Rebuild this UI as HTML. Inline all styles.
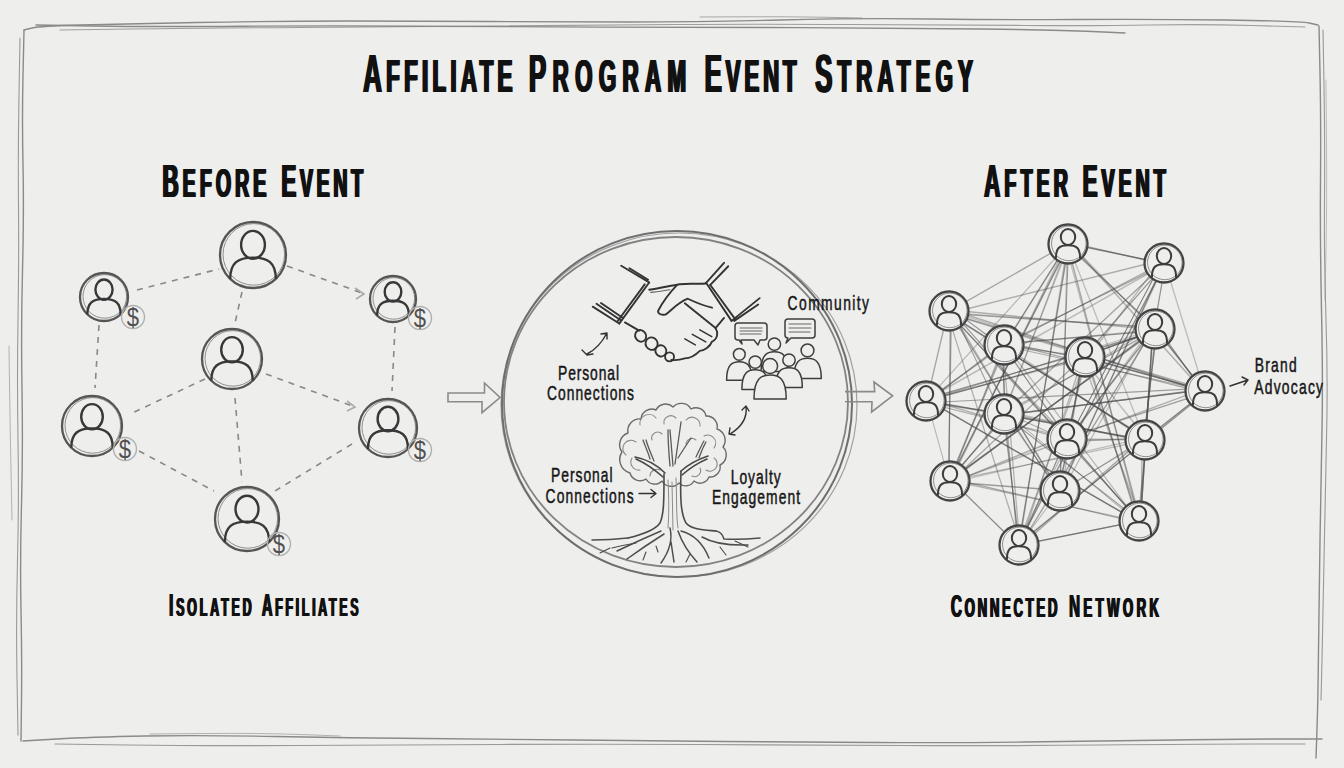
<!DOCTYPE html><html><head><meta charset="utf-8"><style>html,body{margin:0;padding:0;background:#eeeeed;width:1344px;height:768px;overflow:hidden}svg{display:block}.h{font-family:"Liberation Sans",sans-serif;font-weight:bold;fill:#111}.t{font-family:"Liberation Sans",sans-serif;fill:#161616}</style></head><body>
<svg width="1344" height="768" viewBox="0 0 1344 768">
<rect width="1344" height="768" fill="#eeeeed"/>
<path d="M24 30 L32 28 Q40 26 80 25 Q120 24 197 22.5 Q274 21 348.5 21 Q423 21 491.5 21.5 Q560 22 630 22 Q700 22 781 20 Q862 18 931 19 Q1000 20 1075 19.5 Q1150 19 1225 20 Q1300 21 1309 23 L1318 25" fill="none" stroke="#8a8a8a" stroke-width="1.3" stroke-linecap="round" opacity="1.0"/>
<path d="M36 25 L93 26 Q150 27 242 26.2 Q334 25.5 417 26.2 Q500 27 600 27.1 Q700 27.3 800 27.6 Q900 28 980 29 Q1060 30 1092.5 31.5 L1125 33" fill="none" stroke="#8a8a8a" stroke-width="1.4" stroke-linecap="round" opacity="1.0"/>
<path d="M60 30 L130 29 Q200 28 300 27.5 Q400 27 500 26 Q600 25 675 24.5 Q750 24 850 24.5 Q950 25 1025 25.5 Q1100 26 1150 25 Q1200 24 1252.5 25.5 L1305 27" fill="none" stroke="#8a8a8a" stroke-width="1.2" stroke-linecap="round" opacity="0.8"/>
<path d="M700 17 L740 16.8 Q780 16.5 821 17.2 L862 18" fill="none" stroke="#8a8a8a" stroke-width="1.0" stroke-linecap="round" opacity="0.7"/>
<path d="M24 30 L23 75 Q22 120 23 165 Q24 210 22.5 270 Q21 330 22 390 Q23 450 21.5 505 Q20 560 21 610 Q22 660 21.5 700.5 L21 741" fill="none" stroke="#8a8a8a" stroke-width="1.4" stroke-linecap="round" opacity="1.0"/>
<path d="M20 38 L19 94 Q18 150 18.5 205 Q19 260 18 320 Q17 380 18 440 Q19 500 17.5 560 Q16 620 17 677.5 L18 735" fill="none" stroke="#8a8a8a" stroke-width="1.1" stroke-linecap="round" opacity="0.85"/>
<path d="M9 346 L9.5 383 Q10 420 11 470 L12 520" fill="none" stroke="#8a8a8a" stroke-width="1.0" stroke-linecap="round" opacity="0.6"/>
<path d="M1319 26 L1320 73 Q1321 120 1320.5 180 Q1320 240 1321.5 310 Q1323 380 1322 430 Q1321 480 1320 540 Q1319 600 1318.5 650 Q1318 700 1317 729 L1316 758" fill="none" stroke="#8a8a8a" stroke-width="1.4" stroke-linecap="round" opacity="1.0"/>
<path d="M1323 30 L1324 85 Q1325 140 1324.5 200 Q1324 260 1326 320 Q1328 380 1326.5 440 Q1325 500 1324 560 Q1323 620 1322 660 L1321 700" fill="none" stroke="#8a8a8a" stroke-width="1.1" stroke-linecap="round" opacity="0.85"/>
<path d="M1326 80 L1326.5 140 Q1327 200 1326 250 L1325 300" fill="none" stroke="#8a8a8a" stroke-width="1.0" stroke-linecap="round" opacity="0.5"/>
<path d="M23 741 L56.5 739 Q90 737 145 736 Q200 735 275 736.5 Q350 738 425 738.5 Q500 739 575 740 Q650 741 725 741.5 Q800 742 875 742.5 Q950 743 1025 742 Q1100 741 1175 740 Q1250 739 1286 739 L1322 739" fill="none" stroke="#8a8a8a" stroke-width="1.4" stroke-linecap="round" opacity="1.0"/>
<path d="M55 744 L127.5 745 Q200 746 300 745.5 Q400 745 500 744.5 Q600 744 700 744.5 Q800 745 900 745.5 Q1000 746 1100 745 Q1200 744 1252.5 744 L1305 744" fill="none" stroke="#8a8a8a" stroke-width="1.2" stroke-linecap="round" opacity="0.85"/>
<path d="M150 734 L205 733.5 Q260 733 300 734.5 L340 736" fill="none" stroke="#8a8a8a" stroke-width="1.0" stroke-linecap="round" opacity="0.6"/>
<text class="h" transform="translate(362.3,92) scale(0.48,1)" x="0" y="0" textLength="310.8" lengthAdjust="spacing"><tspan font-size="54">A</tspan><tspan font-size="46.5">FFILIATE</tspan></text>
<text class="h" transform="translate(363.2,92) scale(0.48,1)" x="0" y="0" textLength="310.8" lengthAdjust="spacing"><tspan font-size="54">A</tspan><tspan font-size="46.5">FFILIATE</tspan></text>
<text class="h" transform="translate(364.1,92) scale(0.48,1)" x="0" y="0" textLength="310.8" lengthAdjust="spacing"><tspan font-size="54">A</tspan><tspan font-size="46.5">FFILIATE</tspan></text>
<text class="h" transform="translate(528,92) scale(0.48,1)" x="0" y="0" textLength="327.5" lengthAdjust="spacing"><tspan font-size="54">P</tspan><tspan font-size="46.5">ROGRAM</tspan></text>
<text class="h" transform="translate(528.9,92) scale(0.48,1)" x="0" y="0" textLength="327.5" lengthAdjust="spacing"><tspan font-size="54">P</tspan><tspan font-size="46.5">ROGRAM</tspan></text>
<text class="h" transform="translate(529.8,92) scale(0.48,1)" x="0" y="0" textLength="327.5" lengthAdjust="spacing"><tspan font-size="54">P</tspan><tspan font-size="46.5">ROGRAM</tspan></text>
<text class="h" transform="translate(703.7,92) scale(0.48,1)" x="0" y="0" textLength="191.7" lengthAdjust="spacing"><tspan font-size="54">E</tspan><tspan font-size="46.5">VENT</tspan></text>
<text class="h" transform="translate(704.6,92) scale(0.48,1)" x="0" y="0" textLength="191.7" lengthAdjust="spacing"><tspan font-size="54">E</tspan><tspan font-size="46.5">VENT</tspan></text>
<text class="h" transform="translate(705.5,92) scale(0.48,1)" x="0" y="0" textLength="191.7" lengthAdjust="spacing"><tspan font-size="54">E</tspan><tspan font-size="46.5">VENT</tspan></text>
<text class="h" transform="translate(814.2,92) scale(0.48,1)" x="0" y="0" textLength="328.7" lengthAdjust="spacing"><tspan font-size="54">S</tspan><tspan font-size="46.5">TRATEGY</tspan></text>
<text class="h" transform="translate(815.1,92) scale(0.48,1)" x="0" y="0" textLength="328.7" lengthAdjust="spacing"><tspan font-size="54">S</tspan><tspan font-size="46.5">TRATEGY</tspan></text>
<text class="h" transform="translate(816,92) scale(0.48,1)" x="0" y="0" textLength="328.7" lengthAdjust="spacing"><tspan font-size="54">S</tspan><tspan font-size="46.5">TRATEGY</tspan></text>
<text class="h" transform="translate(161.6,196.6) scale(0.48,1)" x="0" y="0" textLength="216.2" lengthAdjust="spacing"><tspan font-size="46.5">B</tspan><tspan font-size="40.7">EFORE</tspan></text>
<text class="h" transform="translate(162.5,196.6) scale(0.48,1)" x="0" y="0" textLength="216.2" lengthAdjust="spacing"><tspan font-size="46.5">B</tspan><tspan font-size="40.7">EFORE</tspan></text>
<text class="h" transform="translate(163.4,196.6) scale(0.48,1)" x="0" y="0" textLength="216.2" lengthAdjust="spacing"><tspan font-size="46.5">B</tspan><tspan font-size="40.7">EFORE</tspan></text>
<text class="h" transform="translate(280.4,196.6) scale(0.48,1)" x="0" y="0" textLength="170.4" lengthAdjust="spacing"><tspan font-size="46.5">E</tspan><tspan font-size="40.7">VENT</tspan></text>
<text class="h" transform="translate(281.3,196.6) scale(0.48,1)" x="0" y="0" textLength="170.4" lengthAdjust="spacing"><tspan font-size="46.5">E</tspan><tspan font-size="40.7">VENT</tspan></text>
<text class="h" transform="translate(282.2,196.6) scale(0.48,1)" x="0" y="0" textLength="170.4" lengthAdjust="spacing"><tspan font-size="46.5">E</tspan><tspan font-size="40.7">VENT</tspan></text>
<text class="h" transform="translate(983.3,197) scale(0.48,1)" x="0" y="0" textLength="174.3" lengthAdjust="spacing"><tspan font-size="46.5">A</tspan><tspan font-size="40.7">FTER</tspan></text>
<text class="h" transform="translate(984.2,197) scale(0.48,1)" x="0" y="0" textLength="174.3" lengthAdjust="spacing"><tspan font-size="46.5">A</tspan><tspan font-size="40.7">FTER</tspan></text>
<text class="h" transform="translate(985.1,197) scale(0.48,1)" x="0" y="0" textLength="174.3" lengthAdjust="spacing"><tspan font-size="46.5">A</tspan><tspan font-size="40.7">FTER</tspan></text>
<text class="h" transform="translate(1081.7,197) scale(0.48,1)" x="0" y="0" textLength="173.1" lengthAdjust="spacing"><tspan font-size="46.5">E</tspan><tspan font-size="40.7">VENT</tspan></text>
<text class="h" transform="translate(1082.6,197) scale(0.48,1)" x="0" y="0" textLength="173.1" lengthAdjust="spacing"><tspan font-size="46.5">E</tspan><tspan font-size="40.7">VENT</tspan></text>
<text class="h" transform="translate(1083.5,197) scale(0.48,1)" x="0" y="0" textLength="173.1" lengthAdjust="spacing"><tspan font-size="46.5">E</tspan><tspan font-size="40.7">VENT</tspan></text>
<text class="h" transform="translate(168.6,616) scale(0.48,1)" x="0" y="0" textLength="171.7" lengthAdjust="spacing"><tspan font-size="30.5">I</tspan><tspan font-size="26">SOLATED</tspan></text>
<text class="h" transform="translate(169.2,616) scale(0.48,1)" x="0" y="0" textLength="171.7" lengthAdjust="spacing"><tspan font-size="30.5">I</tspan><tspan font-size="26">SOLATED</tspan></text>
<text class="h" transform="translate(169.8,616) scale(0.48,1)" x="0" y="0" textLength="171.7" lengthAdjust="spacing"><tspan font-size="30.5">I</tspan><tspan font-size="26">SOLATED</tspan></text>
<text class="h" transform="translate(261.2,616) scale(0.48,1)" x="0" y="0" textLength="201.6" lengthAdjust="spacing"><tspan font-size="30.5">A</tspan><tspan font-size="26">FFILIATES</tspan></text>
<text class="h" transform="translate(261.9,616) scale(0.48,1)" x="0" y="0" textLength="201.6" lengthAdjust="spacing"><tspan font-size="30.5">A</tspan><tspan font-size="26">FFILIATES</tspan></text>
<text class="h" transform="translate(262.4,616) scale(0.48,1)" x="0" y="0" textLength="201.6" lengthAdjust="spacing"><tspan font-size="30.5">A</tspan><tspan font-size="26">FFILIATES</tspan></text>
<text class="h" transform="translate(950.3,616.5) scale(0.48,1)" x="0" y="0" textLength="222.1" lengthAdjust="spacing"><tspan font-size="32">C</tspan><tspan font-size="27.6">ONNECTED</tspan></text>
<text class="h" transform="translate(950.9,616.5) scale(0.48,1)" x="0" y="0" textLength="222.1" lengthAdjust="spacing"><tspan font-size="32">C</tspan><tspan font-size="27.6">ONNECTED</tspan></text>
<text class="h" transform="translate(951.5,616.5) scale(0.48,1)" x="0" y="0" textLength="222.1" lengthAdjust="spacing"><tspan font-size="32">C</tspan><tspan font-size="27.6">ONNECTED</tspan></text>
<text class="h" transform="translate(1068.4,616.5) scale(0.48,1)" x="0" y="0" textLength="187.5" lengthAdjust="spacing"><tspan font-size="32">N</tspan><tspan font-size="27.6">ETWORK</tspan></text>
<text class="h" transform="translate(1069,616.5) scale(0.48,1)" x="0" y="0" textLength="187.5" lengthAdjust="spacing"><tspan font-size="32">N</tspan><tspan font-size="27.6">ETWORK</tspan></text>
<text class="h" transform="translate(1069.6,616.5) scale(0.48,1)" x="0" y="0" textLength="187.5" lengthAdjust="spacing"><tspan font-size="32">N</tspan><tspan font-size="27.6">ETWORK</tspan></text>
<g fill="none" stroke="#888" stroke-width="1.6" stroke-dasharray="6 6">
<line x1="137" y1="290" x2="219" y2="269"/>
<line x1="287" y1="266" x2="362" y2="293"/>
<line x1="242" y1="292" x2="235" y2="323"/>
<line x1="99" y1="325" x2="95" y2="388"/>
<line x1="395" y1="327" x2="392" y2="391"/>
<line x1="205" y1="379" x2="130" y2="414"/>
<line x1="266" y1="374" x2="355" y2="407"/>
<line x1="235" y1="398" x2="242" y2="482"/>
<line x1="139" y1="451" x2="214" y2="491"/>
<line x1="352" y1="444" x2="275" y2="491"/>
<path d="M355 288 L364 294 L356 299 M347 401 L355 407 L347 411" stroke-dasharray="none" stroke="#aaa"/>
</g>
<circle cx="253" cy="255" r="33" fill="#eeeeed" stroke="none"/><circle cx="253" cy="255" r="33" fill="none" stroke="#555" stroke-width="2.3"/><circle cx="253.8" cy="254.4" r="30.8" fill="none" stroke="#777" stroke-width="1" opacity="0.8"/><ellipse cx="253" cy="244.8" rx="11.9" ry="13.9" fill="none" stroke="#383838" stroke-width="2.4"/><path d="M230.2 278.8 C230.2 262.6 238.2 257.6 253 257.6 C267.9 257.6 275.8 262.6 275.8 278.8" fill="none" stroke="#383838" stroke-width="2.4"/>
<circle cx="104" cy="297" r="24" fill="#eeeeed" stroke="none"/><circle cx="104" cy="297" r="24" fill="none" stroke="#555" stroke-width="2.3"/><circle cx="104.8" cy="296.4" r="21.8" fill="none" stroke="#777" stroke-width="1" opacity="0.8"/><ellipse cx="104" cy="289.6" rx="8.6" ry="10.1" fill="none" stroke="#383838" stroke-width="2.4"/><path d="M87.4 314.3 C87.4 302.5 93.2 298.9 104 298.9 C114.8 298.9 120.6 302.5 120.6 314.3" fill="none" stroke="#383838" stroke-width="2.4"/>
<circle cx="393" cy="299" r="23" fill="#eeeeed" stroke="none"/><circle cx="393" cy="299" r="23" fill="none" stroke="#555" stroke-width="2.3"/><circle cx="393.8" cy="298.4" r="20.8" fill="none" stroke="#777" stroke-width="1" opacity="0.8"/><ellipse cx="393" cy="291.9" rx="8.3" ry="9.7" fill="none" stroke="#383838" stroke-width="2.4"/><path d="M377.1 315.6 C377.1 304.3 382.6 300.8 393 300.8 C403.4 300.8 408.9 304.3 408.9 315.6" fill="none" stroke="#383838" stroke-width="2.4"/>
<circle cx="232" cy="359" r="30" fill="#eeeeed" stroke="none"/><circle cx="232" cy="359" r="30" fill="none" stroke="#555" stroke-width="2.3"/><circle cx="232.8" cy="358.4" r="27.8" fill="none" stroke="#777" stroke-width="1" opacity="0.8"/><ellipse cx="232" cy="349.7" rx="10.8" ry="12.6" fill="none" stroke="#383838" stroke-width="2.4"/><path d="M211.3 380.6 C211.3 365.9 218.5 361.4 232 361.4 C245.5 361.4 252.7 365.9 252.7 380.6" fill="none" stroke="#383838" stroke-width="2.4"/>
<circle cx="92" cy="426" r="30" fill="#eeeeed" stroke="none"/><circle cx="92" cy="426" r="30" fill="none" stroke="#555" stroke-width="2.3"/><circle cx="92.8" cy="425.4" r="27.8" fill="none" stroke="#777" stroke-width="1" opacity="0.8"/><ellipse cx="92" cy="416.7" rx="10.8" ry="12.6" fill="none" stroke="#383838" stroke-width="2.4"/><path d="M71.3 447.6 C71.3 432.9 78.5 428.4 92 428.4 C105.5 428.4 112.7 432.9 112.7 447.6" fill="none" stroke="#383838" stroke-width="2.4"/>
<circle cx="388" cy="428" r="29" fill="#eeeeed" stroke="none"/><circle cx="388" cy="428" r="29" fill="none" stroke="#555" stroke-width="2.3"/><circle cx="388.8" cy="427.4" r="26.8" fill="none" stroke="#777" stroke-width="1" opacity="0.8"/><ellipse cx="388" cy="419" rx="10.4" ry="12.2" fill="none" stroke="#383838" stroke-width="2.4"/><path d="M368 448.9 C368 434.7 374.9 430.3 388 430.3 C401.1 430.3 408 434.7 408 448.9" fill="none" stroke="#383838" stroke-width="2.4"/>
<circle cx="247" cy="519" r="32" fill="#eeeeed" stroke="none"/><circle cx="247" cy="519" r="32" fill="none" stroke="#555" stroke-width="2.3"/><circle cx="247.8" cy="518.4" r="29.8" fill="none" stroke="#777" stroke-width="1" opacity="0.8"/><ellipse cx="247" cy="509.1" rx="11.5" ry="13.4" fill="none" stroke="#383838" stroke-width="2.4"/><path d="M224.9 542 C224.9 526.4 232.6 521.6 247 521.6 C261.4 521.6 269.1 526.4 269.1 542" fill="none" stroke="#383838" stroke-width="2.4"/>
<circle cx="133" cy="317" r="11.5" fill="none" stroke="#b0b0b0" stroke-width="1.4"/>
<text transform="translate(133,326) scale(0.85,1)" x="0" y="0" font-family="Liberation Sans" font-size="26" fill="#505050" text-anchor="middle">$</text>
<circle cx="420" cy="318" r="11.5" fill="none" stroke="#b0b0b0" stroke-width="1.4"/>
<text transform="translate(420,327) scale(0.85,1)" x="0" y="0" font-family="Liberation Sans" font-size="26" fill="#505050" text-anchor="middle">$</text>
<circle cx="125" cy="449" r="11.5" fill="none" stroke="#b0b0b0" stroke-width="1.4"/>
<text transform="translate(125,458) scale(0.85,1)" x="0" y="0" font-family="Liberation Sans" font-size="26" fill="#505050" text-anchor="middle">$</text>
<circle cx="420" cy="450" r="11.5" fill="none" stroke="#b0b0b0" stroke-width="1.4"/>
<text transform="translate(420,459) scale(0.85,1)" x="0" y="0" font-family="Liberation Sans" font-size="26" fill="#505050" text-anchor="middle">$</text>
<circle cx="279" cy="544" r="11.5" fill="none" stroke="#b0b0b0" stroke-width="1.4"/>
<text transform="translate(279,553) scale(0.85,1)" x="0" y="0" font-family="Liberation Sans" font-size="26" fill="#505050" text-anchor="middle">$</text>
<g fill="none" stroke="#4a4a4a" stroke-linecap="round">
<line x1="1069.7" y1="243.7" x2="1162.8" y2="263.2" stroke-width="1.4" opacity="0.49"/>
<line x1="1069.8" y1="243.9" x2="1162.7" y2="263.1" stroke-width="1.3" opacity="0.34"/>
<line x1="1067.7" y1="241.9" x2="1164.2" y2="264.5" stroke-width="1.3" opacity="0.34"/>
<line x1="1067.4" y1="243.7" x2="949.4" y2="311.2" stroke-width="1.4" opacity="0.43"/>
<line x1="1068.2" y1="241.4" x2="1154.9" y2="330.8" stroke-width="1.1" opacity="0.30"/>
<line x1="1065.2" y1="243.8" x2="1157" y2="329.2" stroke-width="1.2" opacity="0.35"/>
<line x1="1068.1" y1="244.8" x2="1154.9" y2="328.4" stroke-width="1.2" opacity="0.49"/>
<line x1="1067.4" y1="244.3" x2="1004.4" y2="344.8" stroke-width="1.5" opacity="0.44"/>
<line x1="1066.5" y1="245.5" x2="1005" y2="343.9" stroke-width="1.3" opacity="0.32"/>
<line x1="1070.1" y1="243.3" x2="1203.5" y2="391.5" stroke-width="1.5" opacity="0.39"/>
<line x1="1070.6" y1="241.3" x2="924.2" y2="402.9" stroke-width="1.2" opacity="0.35"/>
<line x1="1068.8" y1="245.7" x2="1003.5" y2="412.8" stroke-width="1.1" opacity="0.32"/>
<line x1="1067" y1="246.8" x2="1004.7" y2="412.1" stroke-width="1.4" opacity="0.32"/>
<line x1="1067.8" y1="243.9" x2="1145.1" y2="440.1" stroke-width="1.3" opacity="0.30"/>
<line x1="1069.4" y1="241.8" x2="949" y2="482.5" stroke-width="1.3" opacity="0.34"/>
<line x1="1067.5" y1="242.3" x2="950.3" y2="482.2" stroke-width="1.1" opacity="0.33"/>
<line x1="1069.8" y1="242.8" x2="948.7" y2="481.8" stroke-width="1.4" opacity="0.51"/>
<line x1="1068.6" y1="244.5" x2="1059.6" y2="490.7" stroke-width="1" opacity="0.52"/>
<line x1="1067.6" y1="241.1" x2="1060.2" y2="493.1" stroke-width="1.3" opacity="0.33"/>
<line x1="1065.5" y1="244.5" x2="1140.7" y2="520.7" stroke-width="1.1" opacity="0.32"/>
<line x1="1067.2" y1="243.7" x2="1139.5" y2="521.2" stroke-width="1.5" opacity="0.43"/>
<line x1="1067.3" y1="244.8" x2="1019.5" y2="544.5" stroke-width="1.2" opacity="0.33"/>
<line x1="1068.7" y1="245.4" x2="1018.5" y2="544.1" stroke-width="1.1" opacity="0.35"/>
<line x1="1068.3" y1="245.1" x2="1018.8" y2="544.2" stroke-width="1.2" opacity="0.44"/>
<line x1="1161.6" y1="260.2" x2="950.7" y2="312.9" stroke-width="1.5" opacity="0.39"/>
<line x1="1165.9" y1="263.6" x2="1153.6" y2="328.6" stroke-width="1.1" opacity="0.36"/>
<line x1="1165.3" y1="260.4" x2="1154.1" y2="330.8" stroke-width="1.1" opacity="0.34"/>
<line x1="1162.7" y1="265.5" x2="1004.9" y2="343.2" stroke-width="1.1" opacity="0.44"/>
<line x1="1162.6" y1="262.7" x2="1005" y2="345.2" stroke-width="1" opacity="0.30"/>
<line x1="1163.2" y1="263.4" x2="1004.6" y2="344.7" stroke-width="1.1" opacity="0.34"/>
<line x1="1164.9" y1="264.1" x2="1084.3" y2="356.2" stroke-width="1.3" opacity="0.52"/>
<line x1="1161.2" y1="260.1" x2="1087" y2="359" stroke-width="1.5" opacity="0.33"/>
<line x1="1164.8" y1="262.9" x2="1204.4" y2="391.1" stroke-width="1.4" opacity="0.30"/>
<line x1="1164.3" y1="264.4" x2="925.8" y2="400" stroke-width="1.5" opacity="0.32"/>
<line x1="1166.5" y1="262.1" x2="1002.3" y2="414.6" stroke-width="1.3" opacity="0.47"/>
<line x1="1161.2" y1="263" x2="1069" y2="439" stroke-width="1" opacity="0.51"/>
<line x1="1163.3" y1="260.1" x2="1067.5" y2="441" stroke-width="1" opacity="0.45"/>
<line x1="1163.3" y1="264.4" x2="1060.5" y2="490" stroke-width="1.3" opacity="0.46"/>
<line x1="1166" y1="260.5" x2="1058.6" y2="492.7" stroke-width="1.4" opacity="0.40"/>
<line x1="1166.7" y1="260.7" x2="1017.1" y2="546.6" stroke-width="1.4" opacity="0.30"/>
<line x1="1163.9" y1="265.4" x2="1019.1" y2="543.3" stroke-width="1.2" opacity="0.45"/>
<line x1="947" y1="313.4" x2="1156.4" y2="327.3" stroke-width="1.3" opacity="0.34"/>
<line x1="951.4" y1="310" x2="1153.4" y2="329.7" stroke-width="1.3" opacity="0.40"/>
<line x1="948.6" y1="312.8" x2="1155.3" y2="327.7" stroke-width="1.5" opacity="0.34"/>
<line x1="951.5" y1="309.3" x2="1002.2" y2="346.2" stroke-width="1.1" opacity="0.35"/>
<line x1="951.4" y1="308.2" x2="1002.3" y2="346.9" stroke-width="1" opacity="0.38"/>
<line x1="948.8" y1="313.6" x2="1085.1" y2="355.2" stroke-width="1.4" opacity="0.32"/>
<line x1="947.9" y1="313" x2="1205.8" y2="389.6" stroke-width="1.5" opacity="0.41"/>
<line x1="946.4" y1="308.2" x2="1206.8" y2="393" stroke-width="1.4" opacity="0.40"/>
<line x1="950.3" y1="311.4" x2="1204.1" y2="390.7" stroke-width="1.2" opacity="0.31"/>
<line x1="948.4" y1="309.1" x2="926.4" y2="402.3" stroke-width="1.4" opacity="0.44"/>
<line x1="951.9" y1="308.7" x2="1002" y2="415.6" stroke-width="1.1" opacity="0.48"/>
<line x1="950.1" y1="309.2" x2="1066.2" y2="440.3" stroke-width="1.2" opacity="0.51"/>
<line x1="946.1" y1="310.8" x2="1069.1" y2="439.1" stroke-width="1.4" opacity="0.34"/>
<line x1="949.2" y1="313.7" x2="1144.8" y2="438.1" stroke-width="1.3" opacity="0.47"/>
<line x1="947" y1="313.1" x2="1146.4" y2="438.5" stroke-width="1.3" opacity="0.52"/>
<line x1="950.3" y1="308.8" x2="949.1" y2="482.6" stroke-width="1.2" opacity="0.51"/>
<line x1="951.5" y1="310.3" x2="948.3" y2="481.5" stroke-width="1.3" opacity="0.44"/>
<line x1="949.9" y1="309.2" x2="1059.4" y2="492.2" stroke-width="1.4" opacity="0.40"/>
<line x1="949.8" y1="312.3" x2="1059.4" y2="490.1" stroke-width="1.1" opacity="0.48"/>
<line x1="949.2" y1="312.7" x2="1138.8" y2="519.8" stroke-width="1.2" opacity="0.52"/>
<line x1="946.5" y1="310.6" x2="1020.8" y2="545.2" stroke-width="1.3" opacity="0.38"/>
<line x1="1153.3" y1="331.2" x2="1005.2" y2="343.5" stroke-width="1.2" opacity="0.50"/>
<line x1="1155.2" y1="330.1" x2="1003.9" y2="344.2" stroke-width="1.5" opacity="0.31"/>
<line x1="1155.1" y1="330.1" x2="1084.9" y2="356.3" stroke-width="1.2" opacity="0.50"/>
<line x1="1155.5" y1="330.1" x2="1084.7" y2="356.2" stroke-width="1.4" opacity="0.49"/>
<line x1="1155.4" y1="331" x2="1084.8" y2="355.6" stroke-width="1.3" opacity="0.40"/>
<line x1="1155.4" y1="327.9" x2="1204.7" y2="391.8" stroke-width="1.2" opacity="0.49"/>
<line x1="1157.4" y1="327.2" x2="1203.3" y2="392.2" stroke-width="1.4" opacity="0.49"/>
<line x1="1155.1" y1="329.4" x2="1204.9" y2="390.7" stroke-width="1.1" opacity="0.51"/>
<line x1="1154.3" y1="329.2" x2="926.5" y2="400.8" stroke-width="1" opacity="0.30"/>
<line x1="1155.3" y1="331.9" x2="925.8" y2="398.9" stroke-width="1.1" opacity="0.50"/>
<line x1="1153" y1="331.6" x2="927.4" y2="399.2" stroke-width="1.2" opacity="0.32"/>
<line x1="1154.8" y1="326.8" x2="1004.1" y2="415.6" stroke-width="1.2" opacity="0.36"/>
<line x1="1157.4" y1="328.9" x2="1002.3" y2="414.1" stroke-width="1.2" opacity="0.48"/>
<line x1="1153.6" y1="330.2" x2="1068" y2="438.2" stroke-width="1.5" opacity="0.31"/>
<line x1="1152.9" y1="326.1" x2="1068.4" y2="441.1" stroke-width="1.1" opacity="0.31"/>
<line x1="1153.5" y1="329" x2="1068.1" y2="439" stroke-width="1.2" opacity="0.46"/>
<line x1="1156.3" y1="330.2" x2="1144.1" y2="439.2" stroke-width="1.4" opacity="0.44"/>
<line x1="1155.8" y1="331" x2="1144.4" y2="438.6" stroke-width="1.3" opacity="0.31"/>
<line x1="1157.2" y1="329.2" x2="1143.5" y2="439.9" stroke-width="1.1" opacity="0.42"/>
<line x1="1157.1" y1="327.4" x2="948.5" y2="482.1" stroke-width="1.4" opacity="0.43"/>
<line x1="1157.4" y1="327.9" x2="948.3" y2="481.8" stroke-width="1.2" opacity="0.48"/>
<line x1="1153.3" y1="332" x2="951.2" y2="478.9" stroke-width="1.4" opacity="0.50"/>
<line x1="1152.5" y1="328.3" x2="1061.7" y2="491.5" stroke-width="1.2" opacity="0.33"/>
<line x1="1152.8" y1="328.4" x2="1140.6" y2="521.4" stroke-width="1.3" opacity="0.47"/>
<line x1="1153.2" y1="330.1" x2="1140.3" y2="520.2" stroke-width="1.5" opacity="0.30"/>
<line x1="1152.7" y1="329" x2="1140.6" y2="521" stroke-width="1.4" opacity="0.51"/>
<line x1="1154.9" y1="326.1" x2="1019.1" y2="547" stroke-width="1.4" opacity="0.48"/>
<line x1="1002.1" y1="342.7" x2="1086.3" y2="358.6" stroke-width="1.1" opacity="0.41"/>
<line x1="1002.7" y1="346" x2="1085.9" y2="356.3" stroke-width="1.3" opacity="0.33"/>
<line x1="1005.1" y1="342.5" x2="1084.2" y2="358.8" stroke-width="1" opacity="0.33"/>
<line x1="1003.6" y1="345.6" x2="1205.3" y2="390.6" stroke-width="1" opacity="0.41"/>
<line x1="1006.1" y1="343.1" x2="1203.6" y2="392.3" stroke-width="1.2" opacity="0.45"/>
<line x1="1004.6" y1="342.6" x2="925.6" y2="402.7" stroke-width="1.4" opacity="0.50"/>
<line x1="1001.5" y1="347.1" x2="927.7" y2="399.6" stroke-width="1.4" opacity="0.37"/>
<line x1="1002.1" y1="345.5" x2="1005.3" y2="413.6" stroke-width="1.2" opacity="0.43"/>
<line x1="1002.7" y1="342.7" x2="1004.9" y2="415.6" stroke-width="1.4" opacity="0.47"/>
<line x1="1003" y1="345.2" x2="1067.7" y2="438.8" stroke-width="1.2" opacity="0.33"/>
<line x1="1002.1" y1="343.2" x2="1068.3" y2="440.2" stroke-width="1.1" opacity="0.39"/>
<line x1="1001.1" y1="344.1" x2="1147.1" y2="440.6" stroke-width="1.3" opacity="0.40"/>
<line x1="1002.4" y1="347.7" x2="1146.1" y2="438.1" stroke-width="1.3" opacity="0.44"/>
<line x1="1004.2" y1="344.3" x2="949.9" y2="481.5" stroke-width="1.5" opacity="0.43"/>
<line x1="1005.2" y1="346.6" x2="949.2" y2="479.9" stroke-width="1.5" opacity="0.44"/>
<line x1="1003.4" y1="342.3" x2="1139.4" y2="522.9" stroke-width="1.1" opacity="0.36"/>
<line x1="1002.7" y1="344" x2="1019.9" y2="545.7" stroke-width="1.3" opacity="0.36"/>
<line x1="1088" y1="357.8" x2="1202.9" y2="390.4" stroke-width="1.4" opacity="0.42"/>
<line x1="1085.6" y1="358.6" x2="1204.6" y2="389.9" stroke-width="1" opacity="0.32"/>
<line x1="1083" y1="356.8" x2="1206.4" y2="391.1" stroke-width="1.1" opacity="0.50"/>
<line x1="1084.6" y1="357" x2="926.3" y2="401" stroke-width="1.1" opacity="0.43"/>
<line x1="1083.9" y1="357.2" x2="926.8" y2="400.9" stroke-width="1.2" opacity="0.39"/>
<line x1="1087.6" y1="358" x2="924.2" y2="400.3" stroke-width="1.4" opacity="0.36"/>
<line x1="1082.9" y1="358.5" x2="1068.4" y2="437.9" stroke-width="1.2" opacity="0.31"/>
<line x1="1086.5" y1="354.3" x2="1066" y2="440.9" stroke-width="1.5" opacity="0.50"/>
<line x1="1082.4" y1="359.4" x2="1068.8" y2="437.3" stroke-width="1.2" opacity="0.51"/>
<line x1="1082.6" y1="358.9" x2="1146.7" y2="438.7" stroke-width="1.5" opacity="0.31"/>
<line x1="1082.7" y1="357.7" x2="951.6" y2="480.5" stroke-width="1.2" opacity="0.43"/>
<line x1="1082.9" y1="356.2" x2="1061.5" y2="491.6" stroke-width="1.1" opacity="0.38"/>
<line x1="1085.5" y1="356.5" x2="1138.7" y2="521.3" stroke-width="1.4" opacity="0.36"/>
<line x1="1088" y1="359.7" x2="1136.9" y2="519.1" stroke-width="1.4" opacity="0.42"/>
<line x1="1082.7" y1="359.4" x2="1140.6" y2="519.4" stroke-width="1.4" opacity="0.35"/>
<line x1="1085.7" y1="358.4" x2="1018.5" y2="544.1" stroke-width="1.3" opacity="0.36"/>
<line x1="1083.7" y1="355.4" x2="1019.9" y2="546.1" stroke-width="1.5" opacity="0.34"/>
<line x1="1202.2" y1="388.4" x2="927.9" y2="402.8" stroke-width="1.1" opacity="0.49"/>
<line x1="1203.3" y1="389.7" x2="1005.2" y2="414.9" stroke-width="1.4" opacity="0.31"/>
<line x1="1203" y1="389.4" x2="1005.4" y2="415.1" stroke-width="1.5" opacity="0.50"/>
<line x1="1204.1" y1="390" x2="1004.6" y2="414.7" stroke-width="1.2" opacity="0.41"/>
<line x1="1204.7" y1="392.9" x2="1067.2" y2="437.6" stroke-width="1.4" opacity="0.48"/>
<line x1="1203.5" y1="392.9" x2="1146" y2="438.7" stroke-width="1.2" opacity="0.39"/>
<line x1="1207.9" y1="390" x2="1142.9" y2="440.7" stroke-width="1.3" opacity="0.44"/>
<line x1="1204.2" y1="388.6" x2="950.5" y2="482.7" stroke-width="1.4" opacity="0.39"/>
<line x1="1204.8" y1="392.9" x2="1019.2" y2="543.6" stroke-width="1" opacity="0.48"/>
<line x1="1207.5" y1="391.6" x2="1017.3" y2="544.6" stroke-width="1.3" opacity="0.37"/>
<line x1="923.9" y1="400.1" x2="1005.5" y2="414.6" stroke-width="1.4" opacity="0.36"/>
<line x1="923.7" y1="402.3" x2="1005.6" y2="413.1" stroke-width="1.3" opacity="0.38"/>
<line x1="927.8" y1="399.8" x2="1065.7" y2="439.8" stroke-width="1.2" opacity="0.40"/>
<line x1="928.6" y1="403.4" x2="1065.2" y2="437.3" stroke-width="1.1" opacity="0.39"/>
<line x1="927.1" y1="401.5" x2="1144.3" y2="439.6" stroke-width="1.4" opacity="0.31"/>
<line x1="925.2" y1="400.3" x2="1145.6" y2="440.5" stroke-width="1.1" opacity="0.46"/>
<line x1="927.6" y1="403.3" x2="948.9" y2="479.4" stroke-width="1.1" opacity="0.34"/>
<line x1="924.8" y1="398.1" x2="1139.9" y2="523" stroke-width="1.4" opacity="0.33"/>
<line x1="926.5" y1="399.8" x2="1138.7" y2="521.8" stroke-width="1.3" opacity="0.39"/>
<line x1="924.6" y1="398.6" x2="1140" y2="522.7" stroke-width="1.2" opacity="0.37"/>
<line x1="1004.9" y1="412.5" x2="1066.4" y2="440.1" stroke-width="1.1" opacity="0.46"/>
<line x1="1003.8" y1="413.1" x2="1145.2" y2="440.6" stroke-width="1.4" opacity="0.37"/>
<line x1="1001.8" y1="413.9" x2="1146.5" y2="440.1" stroke-width="1.4" opacity="0.37"/>
<line x1="1004.7" y1="411.3" x2="1144.5" y2="441.9" stroke-width="1.4" opacity="0.32"/>
<line x1="1005.8" y1="416" x2="948.7" y2="479.6" stroke-width="1.4" opacity="0.49"/>
<line x1="1004.8" y1="414.1" x2="949.4" y2="480.9" stroke-width="1.4" opacity="0.51"/>
<line x1="1006.5" y1="412.5" x2="1058.3" y2="492.1" stroke-width="1.1" opacity="0.50"/>
<line x1="1005.1" y1="412.9" x2="1059.2" y2="491.8" stroke-width="1.2" opacity="0.44"/>
<line x1="1001.4" y1="412.9" x2="1140.9" y2="521.8" stroke-width="1.1" opacity="0.51"/>
<line x1="1005.7" y1="412.1" x2="1137.8" y2="522.3" stroke-width="1" opacity="0.44"/>
<line x1="1005.8" y1="412.9" x2="1017.7" y2="545.8" stroke-width="1.1" opacity="0.41"/>
<line x1="1004.5" y1="414.6" x2="1018.6" y2="544.6" stroke-width="1.2" opacity="0.38"/>
<line x1="1003.7" y1="416.4" x2="1019.2" y2="543.3" stroke-width="1.2" opacity="0.41"/>
<line x1="1069.7" y1="439.3" x2="1143.1" y2="439.8" stroke-width="1.4" opacity="0.44"/>
<line x1="1066.4" y1="441.7" x2="1145.4" y2="438.1" stroke-width="1.3" opacity="0.41"/>
<line x1="1065.3" y1="436.3" x2="951.2" y2="482.9" stroke-width="1.5" opacity="0.41"/>
<line x1="1068.8" y1="440.6" x2="1058.8" y2="489.8" stroke-width="1.4" opacity="0.51"/>
<line x1="1069.5" y1="441.4" x2="1058.2" y2="489.4" stroke-width="1.4" opacity="0.31"/>
<line x1="1068.3" y1="439.6" x2="1138.1" y2="520.6" stroke-width="1.1" opacity="0.48"/>
<line x1="1065.9" y1="437.6" x2="1139.7" y2="522" stroke-width="1.4" opacity="0.33"/>
<line x1="1067.2" y1="436.9" x2="1018.9" y2="546.5" stroke-width="1.4" opacity="0.36"/>
<line x1="1068.9" y1="441.1" x2="1017.7" y2="543.5" stroke-width="1.4" opacity="0.30"/>
<line x1="1065.6" y1="440.3" x2="1020" y2="544.1" stroke-width="1" opacity="0.32"/>
<line x1="1146.5" y1="440.3" x2="949" y2="480.8" stroke-width="1.3" opacity="0.32"/>
<line x1="1143.1" y1="438.2" x2="951.3" y2="482.3" stroke-width="1.3" opacity="0.30"/>
<line x1="1145.3" y1="440.2" x2="1059.8" y2="490.9" stroke-width="1.1" opacity="0.35"/>
<line x1="1143.9" y1="438.9" x2="1060.8" y2="491.8" stroke-width="1" opacity="0.48"/>
<line x1="1142.4" y1="437.4" x2="1140.8" y2="522.8" stroke-width="1.1" opacity="0.45"/>
<line x1="1146.1" y1="441.5" x2="1138.3" y2="520" stroke-width="1.4" opacity="0.45"/>
<line x1="1144.3" y1="441.3" x2="1019.5" y2="544.1" stroke-width="1.1" opacity="0.30"/>
<line x1="1144.7" y1="437.1" x2="1019.2" y2="547.1" stroke-width="1.5" opacity="0.42"/>
<line x1="947.9" y1="481.8" x2="1061.5" y2="490.5" stroke-width="1.5" opacity="0.50"/>
<line x1="950.3" y1="478.5" x2="1138.8" y2="522.7" stroke-width="1.1" opacity="0.47"/>
<line x1="947.7" y1="479.9" x2="1140.6" y2="521.8" stroke-width="1.1" opacity="0.38"/>
<line x1="949.3" y1="478.6" x2="1019.5" y2="546.7" stroke-width="1.3" opacity="0.40"/>
<line x1="950.8" y1="479.1" x2="1018.5" y2="546.3" stroke-width="1.1" opacity="0.33"/>
<line x1="1057.2" y1="493.9" x2="1021" y2="543" stroke-width="1.2" opacity="0.32"/>
<line x1="1138.6" y1="521.1" x2="1019.3" y2="545" stroke-width="1.3" opacity="0.50"/>
<line x1="1140.9" y1="520.3" x2="1017.7" y2="545.5" stroke-width="1.2" opacity="0.47"/>
</g>
<circle cx="1068" cy="244" r="19.5" fill="#eeeeed" stroke="none"/><circle cx="1068" cy="244" r="19.5" fill="none" stroke="#444" stroke-width="2.3"/><circle cx="1068.8" cy="243.4" r="17.3" fill="none" stroke="#777" stroke-width="1" opacity="0.8"/><ellipse cx="1068" cy="237" rx="7.2" ry="8" fill="none" stroke="#3c3c3c" stroke-width="2.0"/><path d="M1055.9 258.8 C1055.9 248.1 1059.2 245.2 1068 245.2 C1076.8 245.2 1080.1 248.1 1080.1 258.8" fill="none" stroke="#3c3c3c" stroke-width="2.0"/>
<circle cx="1164" cy="263" r="19.5" fill="#eeeeed" stroke="none"/><circle cx="1164" cy="263" r="19.5" fill="none" stroke="#444" stroke-width="2.3"/><circle cx="1164.8" cy="262.4" r="17.3" fill="none" stroke="#777" stroke-width="1" opacity="0.8"/><ellipse cx="1164" cy="256" rx="7.2" ry="8" fill="none" stroke="#3c3c3c" stroke-width="2.0"/><path d="M1151.9 277.8 C1151.9 267.1 1155.2 264.2 1164 264.2 C1172.8 264.2 1176.1 267.1 1176.1 277.8" fill="none" stroke="#3c3c3c" stroke-width="2.0"/>
<circle cx="949" cy="311" r="19.5" fill="#eeeeed" stroke="none"/><circle cx="949" cy="311" r="19.5" fill="none" stroke="#444" stroke-width="2.3"/><circle cx="949.8" cy="310.4" r="17.3" fill="none" stroke="#777" stroke-width="1" opacity="0.8"/><ellipse cx="949" cy="304" rx="7.2" ry="8" fill="none" stroke="#3c3c3c" stroke-width="2.0"/><path d="M936.9 325.8 C936.9 315.1 940.2 312.2 949 312.2 C957.8 312.2 961.1 315.1 961.1 325.8" fill="none" stroke="#3c3c3c" stroke-width="2.0"/>
<circle cx="1155" cy="329" r="19.5" fill="#eeeeed" stroke="none"/><circle cx="1155" cy="329" r="19.5" fill="none" stroke="#444" stroke-width="2.3"/><circle cx="1155.8" cy="328.4" r="17.3" fill="none" stroke="#777" stroke-width="1" opacity="0.8"/><ellipse cx="1155" cy="322" rx="7.2" ry="8" fill="none" stroke="#3c3c3c" stroke-width="2.0"/><path d="M1142.9 343.8 C1142.9 333.1 1146.2 330.2 1155 330.2 C1163.8 330.2 1167.1 333.1 1167.1 343.8" fill="none" stroke="#3c3c3c" stroke-width="2.0"/>
<circle cx="1004" cy="345" r="19.5" fill="#eeeeed" stroke="none"/><circle cx="1004" cy="345" r="19.5" fill="none" stroke="#444" stroke-width="2.3"/><circle cx="1004.8" cy="344.4" r="17.3" fill="none" stroke="#777" stroke-width="1" opacity="0.8"/><ellipse cx="1004" cy="338" rx="7.2" ry="8" fill="none" stroke="#3c3c3c" stroke-width="2.0"/><path d="M991.9 359.8 C991.9 349.1 995.2 346.2 1004 346.2 C1012.8 346.2 1016.1 349.1 1016.1 359.8" fill="none" stroke="#3c3c3c" stroke-width="2.0"/>
<circle cx="1085" cy="357" r="19.5" fill="#eeeeed" stroke="none"/><circle cx="1085" cy="357" r="19.5" fill="none" stroke="#444" stroke-width="2.3"/><circle cx="1085.8" cy="356.4" r="17.3" fill="none" stroke="#777" stroke-width="1" opacity="0.8"/><ellipse cx="1085" cy="350" rx="7.2" ry="8" fill="none" stroke="#3c3c3c" stroke-width="2.0"/><path d="M1072.9 371.8 C1072.9 361.1 1076.2 358.2 1085 358.2 C1093.8 358.2 1097.1 361.1 1097.1 371.8" fill="none" stroke="#3c3c3c" stroke-width="2.0"/>
<circle cx="1205" cy="391" r="19.5" fill="#eeeeed" stroke="none"/><circle cx="1205" cy="391" r="19.5" fill="none" stroke="#444" stroke-width="2.3"/><circle cx="1205.8" cy="390.4" r="17.3" fill="none" stroke="#777" stroke-width="1" opacity="0.8"/><ellipse cx="1205" cy="384" rx="7.2" ry="8" fill="none" stroke="#3c3c3c" stroke-width="2.0"/><path d="M1192.9 405.8 C1192.9 395.1 1196.2 392.2 1205 392.2 C1213.8 392.2 1217.1 395.1 1217.1 405.8" fill="none" stroke="#3c3c3c" stroke-width="2.0"/>
<circle cx="926" cy="401" r="19.5" fill="#eeeeed" stroke="none"/><circle cx="926" cy="401" r="19.5" fill="none" stroke="#444" stroke-width="2.3"/><circle cx="926.8" cy="400.4" r="17.3" fill="none" stroke="#777" stroke-width="1" opacity="0.8"/><ellipse cx="926" cy="394" rx="7.2" ry="8" fill="none" stroke="#3c3c3c" stroke-width="2.0"/><path d="M913.9 415.8 C913.9 405.1 917.2 402.2 926 402.2 C934.8 402.2 938.1 405.1 938.1 415.8" fill="none" stroke="#3c3c3c" stroke-width="2.0"/>
<circle cx="1004" cy="414" r="19.5" fill="#eeeeed" stroke="none"/><circle cx="1004" cy="414" r="19.5" fill="none" stroke="#444" stroke-width="2.3"/><circle cx="1004.8" cy="413.4" r="17.3" fill="none" stroke="#777" stroke-width="1" opacity="0.8"/><ellipse cx="1004" cy="407" rx="7.2" ry="8" fill="none" stroke="#3c3c3c" stroke-width="2.0"/><path d="M991.9 428.8 C991.9 418.1 995.2 415.2 1004 415.2 C1012.8 415.2 1016.1 418.1 1016.1 428.8" fill="none" stroke="#3c3c3c" stroke-width="2.0"/>
<circle cx="1067" cy="439" r="19.5" fill="#eeeeed" stroke="none"/><circle cx="1067" cy="439" r="19.5" fill="none" stroke="#444" stroke-width="2.3"/><circle cx="1067.8" cy="438.4" r="17.3" fill="none" stroke="#777" stroke-width="1" opacity="0.8"/><ellipse cx="1067" cy="432" rx="7.2" ry="8" fill="none" stroke="#3c3c3c" stroke-width="2.0"/><path d="M1054.9 453.8 C1054.9 443.1 1058.2 440.2 1067 440.2 C1075.8 440.2 1079.1 443.1 1079.1 453.8" fill="none" stroke="#3c3c3c" stroke-width="2.0"/>
<circle cx="1145" cy="440" r="19.5" fill="#eeeeed" stroke="none"/><circle cx="1145" cy="440" r="19.5" fill="none" stroke="#444" stroke-width="2.3"/><circle cx="1145.8" cy="439.4" r="17.3" fill="none" stroke="#777" stroke-width="1" opacity="0.8"/><ellipse cx="1145" cy="433" rx="7.2" ry="8" fill="none" stroke="#3c3c3c" stroke-width="2.0"/><path d="M1132.9 454.8 C1132.9 444.1 1136.2 441.2 1145 441.2 C1153.8 441.2 1157.1 444.1 1157.1 454.8" fill="none" stroke="#3c3c3c" stroke-width="2.0"/>
<circle cx="950" cy="481" r="19.5" fill="#eeeeed" stroke="none"/><circle cx="950" cy="481" r="19.5" fill="none" stroke="#444" stroke-width="2.3"/><circle cx="950.8" cy="480.4" r="17.3" fill="none" stroke="#777" stroke-width="1" opacity="0.8"/><ellipse cx="950" cy="474" rx="7.2" ry="8" fill="none" stroke="#3c3c3c" stroke-width="2.0"/><path d="M937.9 495.8 C937.9 485.1 941.2 482.2 950 482.2 C958.8 482.2 962.1 485.1 962.1 495.8" fill="none" stroke="#3c3c3c" stroke-width="2.0"/>
<circle cx="1060" cy="491" r="19.5" fill="#eeeeed" stroke="none"/><circle cx="1060" cy="491" r="19.5" fill="none" stroke="#444" stroke-width="2.3"/><circle cx="1060.8" cy="490.4" r="17.3" fill="none" stroke="#777" stroke-width="1" opacity="0.8"/><ellipse cx="1060" cy="484" rx="7.2" ry="8" fill="none" stroke="#3c3c3c" stroke-width="2.0"/><path d="M1047.9 505.8 C1047.9 495.1 1051.2 492.2 1060 492.2 C1068.8 492.2 1072.1 495.1 1072.1 505.8" fill="none" stroke="#3c3c3c" stroke-width="2.0"/>
<circle cx="1139" cy="521" r="19.5" fill="#eeeeed" stroke="none"/><circle cx="1139" cy="521" r="19.5" fill="none" stroke="#444" stroke-width="2.3"/><circle cx="1139.8" cy="520.4" r="17.3" fill="none" stroke="#777" stroke-width="1" opacity="0.8"/><ellipse cx="1139" cy="514" rx="7.2" ry="8" fill="none" stroke="#3c3c3c" stroke-width="2.0"/><path d="M1126.9 535.8 C1126.9 525.1 1130.2 522.2 1139 522.2 C1147.8 522.2 1151.1 525.1 1151.1 535.8" fill="none" stroke="#3c3c3c" stroke-width="2.0"/>
<circle cx="1019" cy="545" r="19.5" fill="#eeeeed" stroke="none"/><circle cx="1019" cy="545" r="19.5" fill="none" stroke="#444" stroke-width="2.3"/><circle cx="1019.8" cy="544.4" r="17.3" fill="none" stroke="#777" stroke-width="1" opacity="0.8"/><ellipse cx="1019" cy="538" rx="7.2" ry="8" fill="none" stroke="#3c3c3c" stroke-width="2.0"/><path d="M1006.9 559.8 C1006.9 549.1 1010.2 546.2 1019 546.2 C1027.8 546.2 1031.1 549.1 1031.1 559.8" fill="none" stroke="#3c3c3c" stroke-width="2.0"/>
<g fill="none" stroke="#6e6e6e" stroke-linecap="round">
<ellipse cx="677" cy="404" rx="175" ry="173" stroke-width="2"/>
<ellipse cx="676" cy="402" rx="172" ry="165" stroke-width="1.8" opacity="0.85"/>
<ellipse cx="679" cy="405" rx="178" ry="172" stroke-width="1.2" opacity="0.6"/>
</g>
<g fill="none" stroke="#8a8a8a" stroke-width="1.6" stroke-linejoin="miter">
<path d="M448 393 L484.5 393 L484.5 383 L500 397.5 L482 412.7 L482 401.7 L448 401.7 Z"/>
<path d="M845 391.6 L874.7 391.6 L874 382 L892.6 395.8 L871.6 412 L872 401.7 L845 401.7"/>
</g>
<g transform="translate(580,255) scale(0.14975)" fill="none" stroke="#333" stroke-linecap="round" stroke-linejoin="round" stroke-width="12.5">
<path d="M275 72 L462 184 M330 88 L455 165 M85 345 L262 458 M110 325 L272 436 M140 320 L282 418" />
<path d="M462 184 L262 458 M432 196 L248 446" />
<path d="M962 52 L842 186 M990 75 L870 200 M1200 288 L1012 440 M1190 330 L1030 440" />
<path d="M842 186 L1012 440 M870 200 L1030 420" />
<path d="M462 232 C540 222 600 205 665 195 C730 188 790 196 842 190" />
<path d="M472 250 C520 246 560 238 600 232" stroke-width="8" stroke="#666"/>
<path d="M650 198 C610 240 560 300 522 372 C518 392 540 402 572 398 C610 370 650 320 720 292 C780 320 830 340 882 352" />
<path d="M700 322 L905 488 C925 520 920 560 880 580 C870 610 830 640 800 640 C770 670 740 690 700 690 C670 700 640 705 610 700" />
<path d="M700 560 L770 600 M750 530 L840 580 M800 500 L880 545" stroke-width="10"/>
<path d="M962 420 L905 488" />
<path d="M300 450 L395 505" />
<ellipse cx="405" cy="540" rx="36" ry="40" transform="rotate(-30 405 540)"/><ellipse cx="478" cy="592" rx="40" ry="42" transform="rotate(-30 478 592)"/><ellipse cx="540" cy="640" rx="36" ry="38" transform="rotate(-30 540 640)"/><ellipse cx="598" cy="680" rx="30" ry="30"/>
</g>
<g fill="none" stroke="#333" stroke-width="1.4" stroke-linecap="round" stroke-linejoin="round">
<path d="M587 354 Q599 348 607 333 M582 350 L587 355 L593 354 M601 334 L607 333 L607 339"/>
<path d="M746 407 Q748 423 730 434 M742 410 L746 406 L749 411 M730 428 L729 434 L735 435"/>
<path d="M639 493.5 L656 493.5 M651 489.5 L656 493.5 L651 497.5"/>
<path d="M1230 386 L1248 380 M1242 377 L1248 380 L1244 385"/>
</g>
<g fill="none" stroke="#3e3e3e" stroke-width="1.5" stroke-linecap="round" stroke-linejoin="round">
<path d="M738 323 L764 323 Q767 323 767 326 L767 337 Q767 340 764 340 L760 340 L758 345 L754 340 L741 340 L742 344 L739 340 L738 340 Q735 340 735 337 L735 326 Q735 323 738 323 Z"/>
<path d="M740 328 L762 328 M740 331 L762 331 M740 334 L761 334" stroke-width="1" stroke="#666"/>
<path d="M788 319 L812 319 Q815 319 815 322 L815 335 Q815 338 812 338 L791 338 L786 343 L788 338 Q785 338 785 335 L785 322 Q785 319 788 319 Z"/>
<path d="M789 324 L811 324 M789 328 L811 328 M789 332 L810 332" stroke-width="1" stroke="#666"/>
<path d="M761.1 371.4 C761.1 354.5 767.1 351.8 774.4 351.8 C781.7 351.8 787.7 354.5 787.7 371.4 Z" fill="#eeeeed"/>
<circle cx="774.4" cy="344.1" r="6.2" fill="#eeeeed"/>
<path d="M726.6 380.3 C726.6 364.2 732.3 361.7 739.3 361.7 C746.3 361.7 752 364.2 752 380.3 Z" fill="#eeeeed"/>
<circle cx="739.3" cy="354.3" r="5.9" fill="#eeeeed"/>
<path d="M793.7 378.6 C793.7 361.1 799.9 358.3 807.5 358.3 C815.1 358.3 821.3 361.1 821.3 378.6 Z" fill="#eeeeed"/>
<circle cx="807.5" cy="350.4" r="6.4" fill="#eeeeed"/>
<path d="M741.9 389.4 C741.9 372.5 747.9 369.8 755.2 369.8 C762.5 369.8 768.5 372.5 768.5 389.4 Z" fill="#eeeeed"/>
<circle cx="755.2" cy="362.1" r="6.2" fill="#eeeeed"/>
<path d="M775.7 387.4 C775.7 370.5 781.7 367.8 789 367.8 C796.3 367.8 802.3 370.5 802.3 387.4 Z" fill="#eeeeed"/>
<circle cx="789" cy="360.1" r="6.2" fill="#eeeeed"/>
<path d="M754 399 C754 378.2 761.2 375 770.1 375 C779 375 786.2 378.2 786.2 399 Z" fill="#eeeeed"/>
<circle cx="770.1" cy="366" r="7.5" fill="#eeeeed"/>
</g>
<g fill="none" stroke="#6a6a6a" stroke-width="1.4" stroke-linecap="round" stroke-linejoin="round">
<path d="M630 473 A13.9 13.9 0 0 1 622 452 A12.4 12.4 0 0 1 628 433 A11.8 11.8 0 0 1 641 419 A10.8 10.8 0 0 1 656 410 A10.7 10.7 0 0 1 673 407 A11.2 11.2 0 0 1 691 409 A10.3 10.3 0 0 1 706 416 A10.6 10.6 0 0 1 717 429 A11.8 11.8 0 0 1 723 447 A11.3 11.3 0 0 1 720 465 A10.1 10.1 0 0 1 709 477 A9.6 9.6 0 0 1 694 481 A9.4 9.4 0 0 1 679 483 A10.6 10.6 0 0 1 662 481 A10 10 0 0 1 646 479 A10.6 10.6 0 0 1 630 473"/>
<path d="M626 455 A8 8 0 0 1 636 442 M640 425 A9 9 0 0 1 656 418 M664 424 A7 7 0 0 1 676 418 M686 420 A8 8 0 0 1 700 426 M704 436 A8 8 0 0 1 714 448 M706 470 A7 7 0 0 0 714 458 M640 470 A8 8 0 0 1 632 458 M652 440 A6 6 0 0 1 662 434 M686 444 A6 6 0 0 1 696 440 M650 476 A7 7 0 0 1 660 470 M692 476 A6 6 0 0 0 700 468" stroke="#8a8a8a" stroke-width="1.1"/>
</g>
<g fill="none" stroke="#4a4a4a" stroke-width="1.6" stroke-linecap="round" stroke-linejoin="round">
<path d="M664 474 C664 500 664 514 660 523 C655 530 645 534 628 538 M681 471 C680 500 681 514 686 523 C692 530 705 530 716 531"/>
<path d="M665 473 C656 464 646 459 635 457 M663 477 C655 470 645 463 636 459 M681 471 C690 463 699 459 708 456 M682 475 C690 468 700 462 707 459"/>
<path d="M650 459 C648 452 645 446 643 440 M654 461 C651 454 648 447 646 440 M696 457 C699 451 701 446 704 441 M699 458 C701 452 703 447 706 442" stroke-width="1.3" stroke="#5a5a5a"/>
<path d="M670 466 C669 455 668 442 668 430 M673 466 C672 454 671 442 670 430 M675 464 C677 450 679 436 681 422 M678 458 C683 450 687 444 691 438" stroke-width="1.3" stroke="#5a5a5a"/>
<path d="M668 480 C669 500 669 515 668 528 M672 482 L673 530 M676 478 C677 500 676 515 678 528" stroke="#8a8a8a" stroke-width="1"/>
<path d="M628 538 Q610 540 592 540 M661 531 Q640 540 617 551 M664 534 Q645 546 627 559 M670 528 Q674 545 661 563 M671 542 L674 562 M678 531 Q684 548 697 562 M681 531 Q700 536 709 558 M716 531 Q722 532 724 539 Q740 540 760 538 M702 537 Q718 546 748 545" stroke-width="1.5" stroke="#4e4e4e"/>
<path d="M656 546 L658 552 M646 552 L643 560 M735 541 L748 547 M690 554 L686 562 M610 548 L600 553 M720 547 L726 555 M636 543 Q624 545 612 548" stroke-width="1.1"/>
</g>
<text class="t" transform="translate(558,380) scale(0.7,1)" x="0" y="0" font-size="19.8" textLength="87.1" lengthAdjust="spacing" stroke="#161616" stroke-width="0.5">Personal</text>
<text class="t" transform="translate(547,400) scale(0.7,1)" x="0" y="0" font-size="19.8" textLength="124.3" lengthAdjust="spacing" stroke="#161616" stroke-width="0.5">Connections</text>
<text class="t" transform="translate(551,482.3) scale(0.7,1)" x="0" y="0" font-size="19.8" textLength="87.9" lengthAdjust="spacing" stroke="#161616" stroke-width="0.5">Personal</text>
<text class="t" transform="translate(545.6,503.4) scale(0.7,1)" x="0" y="0" font-size="19.8" textLength="125.7" lengthAdjust="spacing" stroke="#161616" stroke-width="0.5">Connections</text>
<text class="t" transform="translate(730.7,483.7) scale(0.7,1)" x="0" y="0" font-size="19.8" textLength="71.4" lengthAdjust="spacing" stroke="#161616" stroke-width="0.5">Loyalty</text>
<text class="t" transform="translate(712,504.2) scale(0.7,1)" x="0" y="0" font-size="19.8" textLength="125.7" lengthAdjust="spacing" stroke="#161616" stroke-width="0.5">Engagement</text>
<text class="t" transform="translate(787.6,310.4) scale(0.7,1)" x="0" y="0" font-size="19.8" textLength="116.3" lengthAdjust="spacing" stroke="#161616" stroke-width="0.5">Community</text>
<text class="t" transform="translate(1254.7,371.8) scale(0.7,1)" x="0" y="0" font-size="19.8" textLength="60" lengthAdjust="spacing" stroke="#161616" stroke-width="0.5">Brand</text>
<text class="t" transform="translate(1254.3,393.7) scale(0.7,1)" x="0" y="0" font-size="19.8" textLength="98.1" lengthAdjust="spacing" stroke="#161616" stroke-width="0.5">Advocacy</text>
</svg></body></html>
